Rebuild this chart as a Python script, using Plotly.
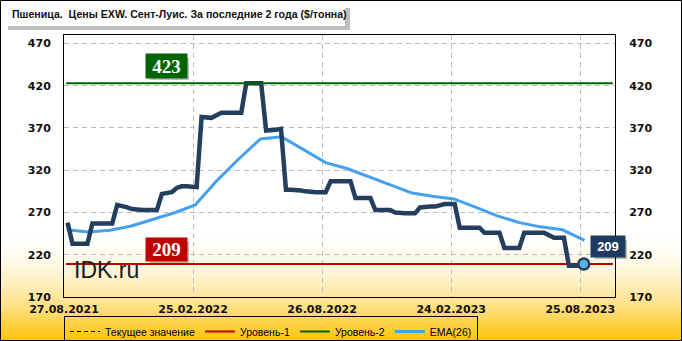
import pandas as pd
import plotly.graph_objects as go

# ---------------- data ----------------
price_dates = pd.date_range("2021-09-01", periods=105, freq="7D")
price_values = [
    258, 233, 233, 233, 233, 257, 257, 257, 257, 257,
    279, 278, 276, 274, 273, 273, 273, 273, 273, 292,
    293, 294, 299, 301, 301, 300, 300, 383, 383, 382,
    385, 388, 388, 388, 388, 388, 423, 423, 423, 423,
    367, 367, 368, 369, 297, 297, 297, 296, 295, 294,
    294, 294, 294, 307, 307, 307, 307, 307, 287, 287,
    287, 287, 273, 273, 273, 273, 270, 269, 269, 269,
    269, 276, 277, 277, 277, 279, 280, 280, 280, 252,
    252, 252, 252, 252, 246, 246, 246, 246, 228, 228,
    228, 228, 246, 246, 246, 246, 246, 243, 240, 240,
    240, 207, 207, 207, 209,
]

ema_dates = [
    "2021-08-31", "2021-09-30", "2021-10-31", "2021-11-30", "2021-12-31",
    "2022-01-31", "2022-02-28", "2022-03-31", "2022-04-30", "2022-05-31",
    "2022-06-30", "2022-07-31", "2022-08-31", "2022-09-30", "2022-10-31",
    "2022-11-30", "2022-12-31", "2023-01-31", "2023-02-28", "2023-03-31",
    "2023-04-30", "2023-05-31", "2023-06-30", "2023-07-31", "2023-08-31",
]
ema_values = [
    249.5, 247, 249, 254, 262, 270, 279, 308, 333, 357,
    359.5, 344, 329, 322, 312, 303, 293, 289, 286, 276,
    266, 258, 253, 249.5, 237,
]

level1 = 209
level2 = 423
current_value = 209
level_x = ["2021-08-30", "2023-10-10"]

x_range = ["2021-08-27", "2023-10-13"]
x_tickvals = ["2021-08-27", "2022-02-25", "2022-08-26", "2023-02-24", "2023-08-25"]
x_ticktext = ["27.08.2021", "25.02.2022", "26.08.2022", "24.02.2023", "25.08.2023"]
y_range = [170, 480]
y_ticks = [170, 220, 270, 320, 370, 420, 470]

title_text = "Пшеница.  Цены EXW. Сент-Луис. За последние 2 года ($/тонна)"

# ---------------- geometry helpers ----------------
W, H = 682, 341
L, R, T, B = 64, 615, 35, 297


def px(x):
    return (x - L) / (R - L)


def py(y):
    return (B - y) / (B - T)


NAVY = "#233E5E"
EMA_C = "#46A0F0"
RED = "#C00000"
GREEN = "#006400"
FONT = "Liberation Sans"
TICK_FONT = "DejaVu Sans"

fig = go.Figure()

fig.add_trace(go.Scatter(
    x=level_x, y=[current_value] * 2, mode="lines", name="Текущее значение",
    line=dict(color="black", width=1, dash="4px,3px"), hoverinfo="skip"))
fig.add_trace(go.Scatter(
    x=level_x, y=[level1] * 2, mode="lines", name="Уровень-1",
    line=dict(color=RED, width=2), hoverinfo="skip"))
fig.add_trace(go.Scatter(
    x=level_x, y=[level2] * 2, mode="lines", name="Уровень-2", yaxis="y2",
    line=dict(color=GREEN, width=2), hoverinfo="skip"))
fig.add_trace(go.Scatter(
    x=ema_dates, y=ema_values, mode="lines", name="EMA(26)",
    line=dict(color=EMA_C, width=3)))
fig.add_trace(go.Scatter(
    x=price_dates, y=price_values, mode="lines", showlegend=False,
    line=dict(color=NAVY, width=4.5)))
fig.add_trace(go.Scatter(
    x=[price_dates[-1]], y=[price_values[-1]], mode="markers", showlegend=False,
    marker=dict(size=11, color="#5DB0E6", line=dict(color=NAVY, width=2.5))))

shapes = []
# background gradient (white -> orange-yellow at bottom)
y0 = 225
n = 40
for i in range(n):
    a = y0 + (H - y0) * i / n
    b = y0 + (H - y0) * (i + 1) / n
    f = (((a + b) / 2 - y0) / (H - y0)) ** 2
    g = int(round(255 - 63 * f))
    bl = int(round(255 - 255 * f))
    shapes.append(dict(type="rect", xref="paper", yref="paper", layer="below",
                       x0=px(0), x1=px(W), y0=py(b + 0.5), y1=py(a),
                       fillcolor=f"rgb(255,{g},{bl})", line=dict(width=0)))
# title box with shadow
shapes.append(dict(type="rect", xref="paper", yref="paper", layer="below",
                   x0=px(8), x1=px(350), y0=py(30), y1=py(8),
                   fillcolor="rgba(0,0,0,0.25)", line=dict(width=0)))
shapes.append(dict(type="rect", xref="paper", yref="paper", layer="below",
                   x0=px(3), x1=px(345), y0=py(26), y1=py(3),
                   fillcolor="white", line=dict(width=0)))
# label box shadows
for (bx0, by0, bx1, by1) in [(147, 55, 186, 77), (147, 239, 186, 260), (592, 237, 624, 256)]:
    shapes.append(dict(type="rect", xref="paper", yref="paper", layer="above",
                       x0=px(bx0 + 3), x1=px(bx1 + 3), y0=py(by1 + 3), y1=py(by0 + 3),
                       fillcolor="rgba(0,0,0,0.25)", line=dict(width=0)))
# outer border
shapes.append(dict(type="rect", xref="paper", yref="paper", layer="above",
                   x0=px(0.5), x1=px(W - 0.5), y0=py(H - 0.5), y1=py(0.5),
                   line=dict(color="black", width=1)))

annotations = [
    dict(xref="paper", yref="paper", x=px(10), y=py(14), xanchor="left", yanchor="middle",
         text=title_text, showarrow=False,
         font=dict(family=FONT, size=10.6, color="#111111", weight="bold")),
    dict(xref="paper", yref="paper", x=px(166.5), y=py(66), xanchor="center", yanchor="middle",
         text=str(level2), showarrow=False, width=39, height=22, bgcolor=GREEN,
         font=dict(family="Liberation Serif", size=19, color="white", weight="bold")),
    dict(xref="paper", yref="paper", x=px(166.5), y=py(249.5), xanchor="center", yanchor="middle",
         text=str(level1), showarrow=False, width=39, height=21, bgcolor=RED,
         font=dict(family="Liberation Serif", size=19, color="white", weight="bold")),
    dict(xref="paper", yref="paper", x=px(608), y=py(246.5), xanchor="center", yanchor="middle",
         text=str(current_value), showarrow=False, width=32, height=19, bgcolor="#1F3A5F",
         font=dict(family=FONT, size=13, color="white", weight="bold")),
    dict(xref="paper", yref="paper", x=px(72), y=py(270), xanchor="left", yanchor="middle",
         text="IDK.ru", showarrow=False,
         font=dict(family=FONT, size=23, color="#1a1a1a")),
]

axis_font = dict(family=TICK_FONT, size=11, color="#111111", weight="bold")
fig.update_layout(
    width=W, height=H,
    margin=dict(l=L, r=W - R, t=T, b=H - B, autoexpand=False),
    paper_bgcolor="white", plot_bgcolor="rgba(0,0,0,0)",
    showlegend=True,
    legend=dict(orientation="h", x=0, y=py(316), xanchor="left", yanchor="top",
                bgcolor="rgba(0,0,0,0)", bordercolor="black", borderwidth=1,
                font=dict(family=FONT, size=10.5, color="black")),
    xaxis=dict(type="date", range=x_range, tickvals=x_tickvals, ticktext=x_ticktext,
               showgrid=True, gridcolor="#BDBDBD", griddash="5px,4px", gridwidth=1,
               showline=True, linecolor="black", linewidth=1, mirror=True,
               ticks="outside", ticklen=2, tickcolor="rgba(0,0,0,0)",
               tickfont=axis_font, zeroline=False, fixedrange=True),
    yaxis=dict(range=y_range, tickvals=y_ticks, showgrid=True, gridcolor="#BDBDBD",
               griddash="5px,4px", gridwidth=1, showline=True, linecolor="black",
               linewidth=1, mirror=True, ticks="outside", ticklen=10,
               tickcolor="rgba(0,0,0,0)", tickfont=axis_font, zeroline=False),
    yaxis2=dict(range=y_range, tickvals=y_ticks, overlaying="y", side="right",
                showgrid=False, ticks="outside", ticklen=11,
                tickcolor="rgba(0,0,0,0)", tickfont=axis_font, zeroline=False),
    shapes=shapes,
    annotations=annotations,
)

fig.write_html("out.html")
